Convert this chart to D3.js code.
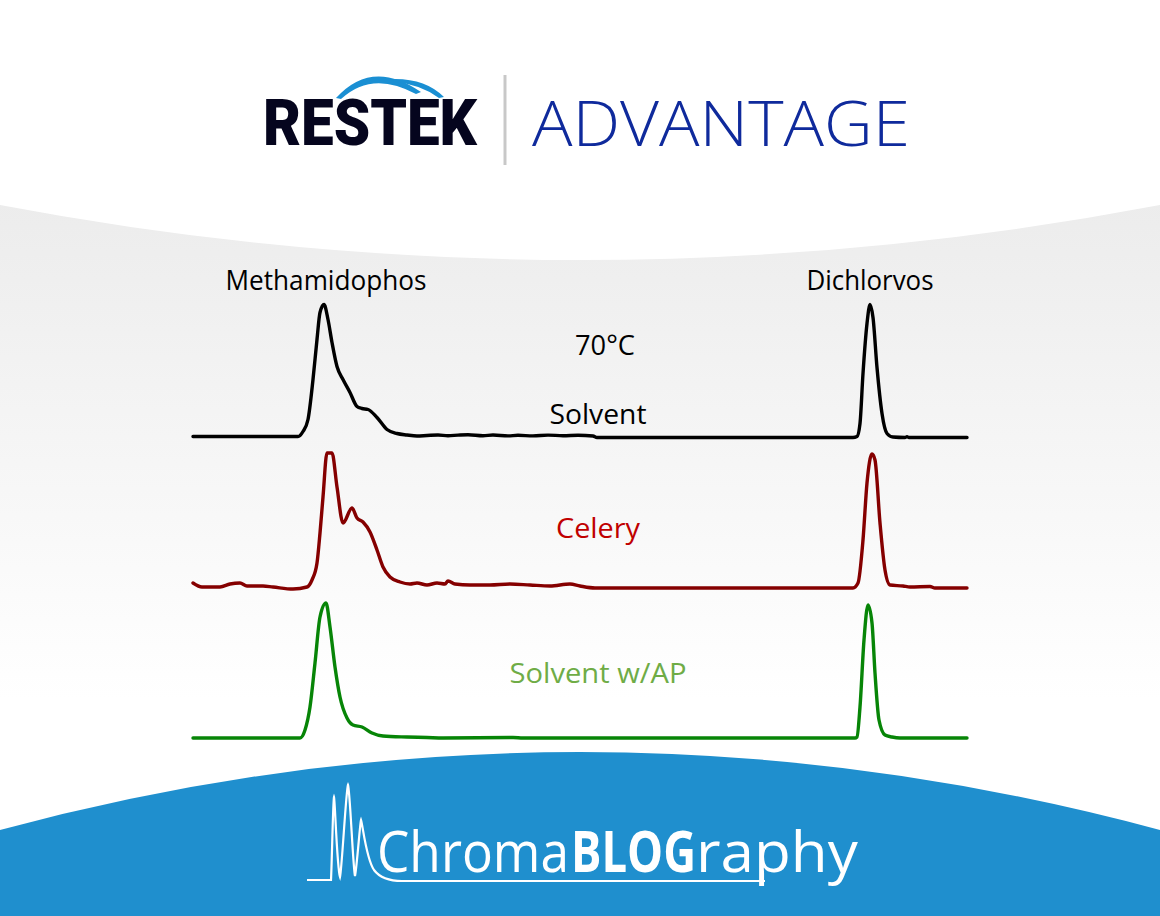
<!DOCTYPE html>
<html>
<head>
<meta charset="utf-8">
<script src="https://cdn.jsdelivr.net/npm/d3@7"></script>
<style>
  html, body { margin: 0; padding: 0; background: #ffffff; }
  svg { display: block; }
</style>
</head>
<body>
<svg id="chart" width="1160" height="916"></svg>
<script>
// ---------------- DATA ----------------
// relative retention (arbitrary units) and detector response (arbitrary units)
const peakNames = ["Methamidophos", "Dichlorvos"];
const peakRetention = [133, 677];
const temperatureLabel = "70°C";
const seriesNames = ["Solvent", "Celery", "Solvent w/AP"];

const solventTrace = [
  [0,1],[105,1],[110,6],[115,18],[120,58],[124,98],[127,125],[131,133],[135,118],[139,95],
  [144,71],[150,58],[157,45],[164,31],[169,29],[175,28],[184,20],[194,8],[204,4],[214,2.5],
  [224,1.5],[234,2],[245,2.5],[255,1.8],[265,2.4],[275,2.8],[290,1.8],[300,2.5],[315,1.6],
  [325,2.2],[340,1.6],[355,2.4],[370,1.8],[385,2.2],[400,1.5],[404,0],[660,0],[664,1],
  [667,14],[670,64],[674,114],[677,133],[680,120],[684,70],[689,24],[694,4],[700,0.5],
  [712,0],[714,0.8],[716,0],[774,0]
];
const celeryTrace = [
  [0,5],[9,1],[27,1],[37,4],[47,5],[54,2],[70,2],[80,1],[100,-1],[114,1],[119,8],[124,25],
  [127,55],[130,91],[134,135],[139,135],[144,101],[150,65],[159,80],[164,70],[170,66],
  [177,56],[184,38],[190,21],[197,11],[207,6],[217,4],[224,5],[234,3],[244,5],[252,4],
  [255,7],[262,4],[277,3],[297,3],[317,4],[337,3],[357,2],[377,4],[387,2],[402,0],[660,0],
  [665,5],[670,48],[674,105],[679,134],[682,128],[687,65],[692,18],[697,3],[710,2],[717,1],
  [737,1.5],[742,0],[774,0]
];
const solventAPTrace = [
  [0,0],[107,0],[112,8],[117,31],[122,75],[127,121],[133,135],[137,111],[142,71],[147,41],
  [154,20],[160,13],[169,11],[179,5],[190,2],[214,1],[234,0.5],[250,0],[320,0.5],[330,0],
  [662,0],[664,1],[667,31],[671,98],[675,133],[679,115],[682,65],[686,18],[692,3],[699,1],
  [707,0],[774,0]
];
const traces = [solventTrace, celeryTrace, solventAPTrace];

// ---------------- STYLE / LAYOUT ----------------
const traceColors = ["#000000", "#850000", "#078507"];
const labelColors = ["#000000", "#c00000", "#6fac46"];
const baselines = [437.5, 588, 738];
const labelRise = [14, 50, 55];
const labelWidths = [97, 84, 177];
const labelFont = "'Open Sans', 'DejaVu Sans', sans-serif";

const svg = d3.select("#chart");
const defs = svg.append("defs");

// fit a text horizontally to a target width with a transform (anchor point kept)
function fitText(sel, targetW) {
  const node = sel.node();
  const w = node.getComputedTextLength();
  const k = targetW / w;
  const x0 = +sel.attr("x");
  sel.attr("transform", `translate(${x0},0) scale(${k},1) translate(${-x0},0)`);
  return sel;
}

// background gradient
const g1 = defs.append("linearGradient").attr("id", "bgGrad")
  .attr("gradientUnits", "userSpaceOnUse").attr("x1", 0).attr("y1", 200).attr("x2", 0).attr("y2", 700);
g1.append("stop").attr("offset", 0).attr("stop-color", "#ececec");
g1.append("stop").attr("offset", 1).attr("stop-color", "#ffffff");

svg.append("rect").attr("x", 0).attr("y", 0).attr("width", 1160).attr("height", 916).attr("fill", "url(#bgGrad)");
// white top region
svg.append("path").attr("d", "M0,0 H1160 V205 Q580,315 0,205 Z").attr("fill", "#ffffff");
// blue bottom banner
svg.append("path").attr("d", "M0,830 Q580,674 1160,830 V916 H0 Z").attr("fill", "#1f8fce");

// ---------------- HEADER LOGO ----------------
svg.append("path")
  .attr("d", "M336,98 Q372,58 421,92 L416,94 Q372,70 341,99 Z")
  .attr("fill", "#1a8fd3");
svg.append("path")
  .attr("d", "M392,79 Q425,78 444,97 L439,98 Q420,84 394,82 Z")
  .attr("fill", "#1a8fd3");
fitText(svg.append("text").text("RESTEK")
  .attr("x", 263).attr("y", 145)
  .attr("font-family", "Roboto, Lato, 'Liberation Sans', sans-serif")
  .attr("font-weight", 900).attr("font-size", 64)
  .attr("fill", "#05051e"), 214);
svg.append("line").attr("x1", 505).attr("x2", 505).attr("y1", 75).attr("y2", 165)
  .attr("stroke", "#c8c8c8").attr("stroke-width", 3);
fitText(svg.append("text").text("ADVANTAGE")
  .attr("x", 532).attr("y", 146)
  .attr("font-family", "'Open Sans', 'DejaVu Sans', sans-serif")
  .attr("font-weight", 300).attr("font-size", 63)
  .attr("fill", "#0f2a9c"), 378);

// ---------------- CHROMATOGRAMS ----------------
const x = d3.scaleLinear().domain([0, 774]).range([193, 967]);
const y = d3.scaleLinear().domain([0, 135]).range([0, -135]);
const line = d3.line().x(d => x(d[0])).y(d => y(d[1])).curve(d3.curveMonotoneX);

traces.forEach((tr, i) => {
  const g = svg.append("g").attr("transform", `translate(0,${baselines[i]})`);
  g.append("path").datum(tr).attr("d", line)
    .attr("fill", "none").attr("stroke", traceColors[i])
    .attr("stroke-width", 3.4).attr("stroke-linejoin", "round").attr("stroke-linecap", "round");
  fitText(g.append("text").text(seriesNames[i])
    .attr("x", x(405)).attr("y", -labelRise[i])
    .attr("text-anchor", "middle")
    .attr("font-family", labelFont).attr("font-size", 28)
    .attr("fill", labelColors[i]), labelWidths[i]);
});

// peak names
const peakWidths = [201, 127];
peakNames.forEach((n, i) => {
  fitText(svg.append("text").text(n)
    .attr("x", x(peakRetention[i])).attr("y", 290)
    .attr("text-anchor", "middle")
    .attr("font-family", labelFont).attr("font-size", 28)
    .attr("fill", "#000000"), peakWidths[i]);
});
fitText(svg.append("text").text(temperatureLabel)
  .attr("x", x(412)).attr("y", 355)
  .attr("text-anchor", "middle")
  .attr("font-family", labelFont).attr("font-size", 28)
  .attr("fill", "#000000"), 60);

// ---------------- FOOTER LOGO ----------------
svg.append("path")
  .attr("d", "M307,880 H331 C332,860 333,800 334,797 C335,800 337,868 340,877 C342,868 346,790 348,785 C350,790 353,868 355,876 C357,866 360,823 361,820 C363,826 366,858 374,870 C380,878 390,881 402,881 H765")
  .attr("fill", "none").attr("stroke", "#ffffff").attr("stroke-width", 2.2);
const footFont = "'Open Sans', 'DejaVu Sans', sans-serif";
fitText(svg.append("text").text("Chroma").attr("x", 377).attr("y", 872)
  .attr("font-family", footFont).attr("font-size", 56).attr("font-weight", 400)
  .attr("fill", "#ffffff"), 192);
fitText(svg.append("text").text("BLOG").attr("x", 571).attr("y", 872)
  .attr("font-family", footFont).attr("font-size", 57).attr("font-weight", 700)
  .attr("fill", "#ffffff"), 125);
fitText(svg.append("text").text("raphy").attr("x", 696).attr("y", 872)
  .attr("font-family", footFont).attr("font-size", 56).attr("font-weight", 400)
  .attr("fill", "#ffffff"), 162);
</script>
</body>
</html>
